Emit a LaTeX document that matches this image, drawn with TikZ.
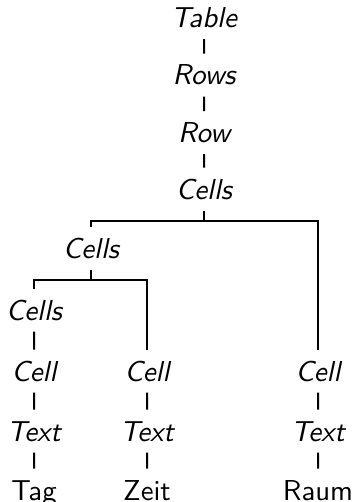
\documentclass[tikz,border=0pt]{standalone}
\usepackage{tikz}

\tikzset{
  lbl/.style={font=\sffamily\itshape, scale=1.44, transform shape,
    anchor=base, inner xsep=0pt, inner ysep=3.5pt, text height=6.9pt,
    text depth=0pt},
  word/.style={lbl, font=\sffamily}
}

\begin{document}
\begin{tikzpicture}[x=0.5pt, y=-0.5pt, line width=1pt]
  \useasboundingbox (0,0) rectangle (354,502);

  % spine
  \node (table) [lbl] at (204,27.5) {Table};
  \node (rows) [lbl] at (204,85) {Rows};
  \node (row) [lbl] at (204,142.5) {Row};
  \node (cells) [lbl] at (204,199) {Cells};

  % nested cell lists
  \node (cellsa) [lbl] at (91,258) {Cells};
  \node (cellsb) [lbl] at (34,320) {Cells};

  % cells, texts and their words
  \node (cella) [lbl] at (34,381) {Cell};
  \node (cellb) [lbl] at (147,381) {Cell};
  \node (cellc) [lbl] at (318,381) {Cell};
  \node (texta) [lbl] at (34,441) {Text};
  \node (textb) [lbl] at (147,441) {Text};
  \node (textc) [lbl] at (318,441) {Text};
  \node (tag) [word] at (34,500) {Tag};
  \node (zeit) [word] at (147,500) {Zeit};
  \node (raum) [word] at (318,500) {Raum};

  \draw (table) -- (rows);
  \draw (rows) -- (row);
  \draw (row) -- (cells);
  \draw (cells.south) -- ++(0,10) coordinate (bara) -| (cellsa.north);
  \draw (bara) -| (cellc.north);
  \draw (cellsa.south) -- ++(0,10) coordinate (barb) -| (cellsb.north);
  \draw (barb) -| (cellb.north);
  \draw (cellsb) -- (cella);
  \draw (cella) -- (texta);
  \draw (cellb) -- (textb);
  \draw (cellc) -- (textc);
  \draw (texta) -- (tag);
  \draw (textb) -- (zeit);
  \draw (textc) -- (raum);
\end{tikzpicture}
\end{document}
